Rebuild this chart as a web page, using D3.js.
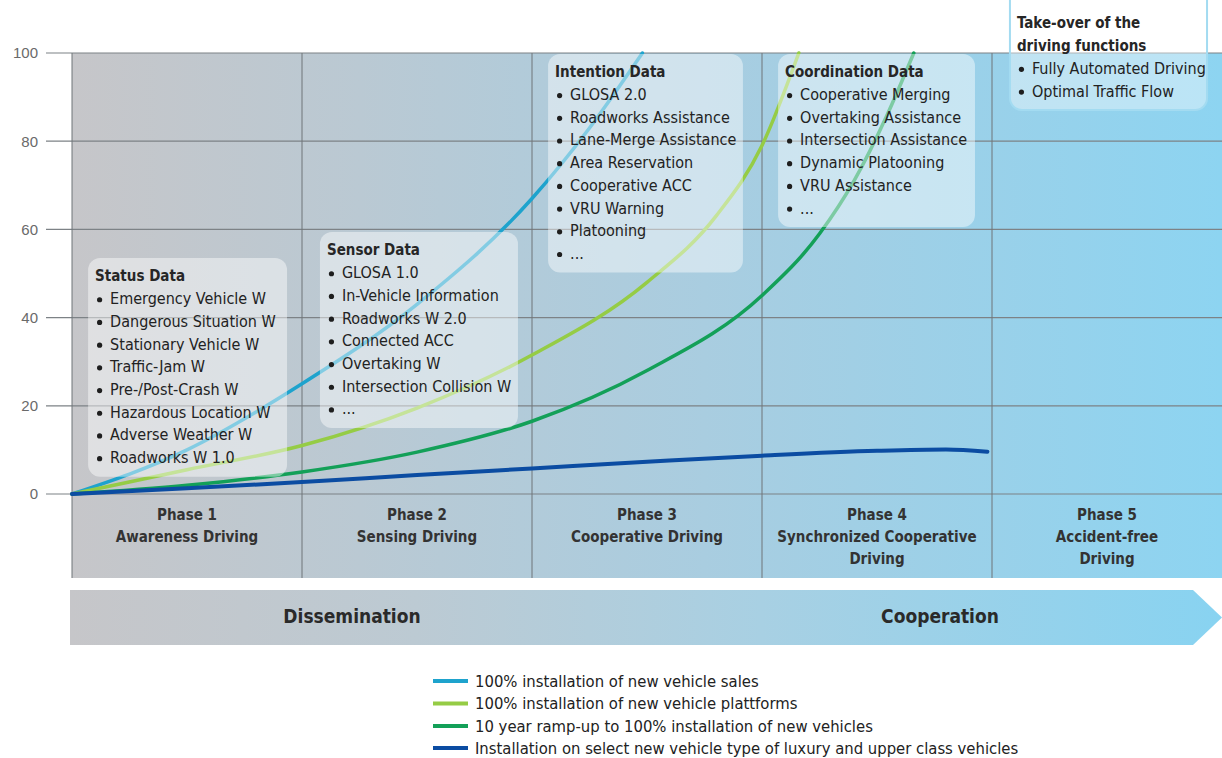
<!DOCTYPE html>
<html>
<head>
<meta charset="utf-8">
<script src="https://cdn.jsdelivr.net/npm/d3@7"></script>
<style>
  body { margin: 0; background: #fff; }
  svg { display: block; font-family: "DejaVu Sans Condensed", "Liberation Sans Narrow", sans-serif; }
</style>
</head>
<body>
<div id="chart"></div>
<script>
var yTicks = [0, 20, 40, 60, 80, 100];
var phaseTitles = ["Phase 1", "Phase 2", "Phase 3", "Phase 4", "Phase 5"];
var phaseNames = [["Awareness Driving"], ["Sensing Driving"], ["Cooperative Driving"],
                  ["Synchronized Cooperative", "Driving"], ["Accident-free", "Driving"]];

var salesX = [0, 0.5, 1.0, 1.5, 2.0, 2.25, 2.48];
var salesY = [0, 10, 25, 43, 67, 83, 100];
var platformX = [0, 0.5, 1.0, 1.5, 2.0, 2.5, 2.8, 3.0, 3.16];
var platformY = [0, 5.5, 11, 19.5, 31.5, 48, 63, 79, 100];
var rampX = [0, 0.5, 1.0, 1.5, 2.0, 2.5, 3.0, 3.25, 3.4, 3.54, 3.66];
var rampY = [0, 2.0, 5.0, 9.5, 16.5, 28, 45, 59, 71, 85.5, 100];
var luxuryX = [0, 0.5, 1.0, 1.5, 2.0, 2.5, 3.0, 3.5, 3.8, 3.98];
var luxuryY = [0, 1.3, 2.7, 4.3, 5.8, 7.3, 8.7, 9.8, 10.1, 9.6];

var seriesNames = ["100% installation of new vehicle sales",
                   "100% installation of new vehicle plattforms",
                   "10 year ramp-up to 100% installation of new vehicles",
                   "Installation on select new vehicle type of luxury and upper class vehicles"];
var seriesColors = ["#1ea3cd", "#95cc45", "#13a058", "#0b4ca2"];

var boxTitles = [["Status Data"], ["Sensor Data"], ["Intention Data"], ["Coordination Data"],
                 ["Take-over of the", "driving functions"]];
var boxItems = [
  ["Emergency Vehicle W", "Dangerous Situation W", "Stationary Vehicle W", "Traffic-Jam W",
   "Pre-/Post-Crash W", "Hazardous Location W", "Adverse Weather W", "Roadworks W 1.0"],
  ["GLOSA 1.0", "In-Vehicle Information", "Roadworks W 2.0", "Connected ACC",
   "Overtaking W", "Intersection Collision W", "..."],
  ["GLOSA 2.0", "Roadworks Assistance", "Lane-Merge Assistance", "Area Reservation",
   "Cooperative ACC", "VRU Warning", "Platooning", "..."],
  ["Cooperative Merging", "Overtaking Assistance", "Intersection Assistance",
   "Dynamic Platooning", "VRU Assistance", "..."],
  ["Fully Automated Driving", "Optimal Traffic Flow"]
];
var arrowLabels = ["Dissemination", "Cooperation"];

// layout
var width = 1222, height = 758;
var bandBottom = 578;
var lineH = 22.7;
// box anchors: left/right in phase units, top in y units
var boxLeft = [0.07, 1.078, 2.07, 3.07, 4.078];
var boxRight = [0.935, 1.939, 2.917, 3.926, 4.935];
var boxTop = [53.5, 59.4, 99.8, 99.8, 110.9];

var svg = d3.select("#chart").append("svg")
  .attr("width", width).attr("height", height);

var x = d3.scaleLinear().domain([0, 5]).range([72, 1222]);
var y = d3.scaleLinear().domain([0, 100]).range([494, 53]);

var defs = svg.append("defs");
var bg = defs.append("linearGradient").attr("id", "bg");
[["0%", "#c6c6c9"], ["25%", "#bac9d3"], ["55%", "#a9cde0"], ["100%", "#8dd4f1"]].forEach(function(s){
  bg.append("stop").attr("offset", s[0]).attr("stop-color", s[1]);
});
var ag = defs.append("linearGradient").attr("id", "arrowg");
[["0%", "#c6c6c9"], ["30%", "#bccad3"], ["60%", "#a8d0e3"], ["100%", "#88d3f1"]].forEach(function(s){
  ag.append("stop").attr("offset", s[0]).attr("stop-color", s[1]);
});

// background
svg.append("rect")
  .attr("x", x(0)).attr("y", y(100))
  .attr("width", x(5) - x(0)).attr("height", bandBottom - y(100))
  .attr("fill", "url(#bg)");

// grid
svg.append("g").selectAll("line").data(yTicks).enter().append("line")
  .attr("x1", 46).attr("x2", x(5))
  .attr("y1", function(d){ return y(d); }).attr("y2", function(d){ return y(d); })
  .attr("stroke", "#7d8286").attr("stroke-width", 1.2);
svg.append("g").selectAll("line").data([0, 1, 2, 3, 4]).enter().append("line")
  .attr("x1", function(d){ return x(d); }).attr("x2", function(d){ return x(d); })
  .attr("y1", y(100)).attr("y2", bandBottom)
  .attr("stroke", "#6f7579").attr("stroke-width", 1);

// axis labels
var yAxis = svg.append("g")
  .attr("transform", "translate(46,0)")
  .call(d3.axisLeft(y).tickValues(yTicks).tickSize(0).tickPadding(8));
yAxis.select(".domain").remove();
yAxis.selectAll("text").attr("fill", "#6a6a6a").style("font-size", "15px")
  .style("font-family", "'Liberation Sans', Arial, sans-serif");

// curves
var line = d3.line()
  .x(function(d){ return x(d[0]); })
  .y(function(d){ return y(d[1]); })
  .curve(d3.curveMonotoneX);
var curves = [
  d3.zip(salesX, salesY),
  d3.zip(platformX, platformY),
  d3.zip(rampX, rampY),
  d3.zip(luxuryX, luxuryY)
];
svg.append("g").selectAll("path").data(curves).enter().append("path")
  .attr("d", line)
  .attr("fill", "none")
  .attr("stroke", function(d, i){ return seriesColors[i]; })
  .attr("stroke-width", function(d, i){ return i == 3 ? 4 : 3.5; })
  .attr("stroke-linecap", "round");

// info boxes (drawn over the curves)
boxTitles.forEach(function(t, i){
  var bx = x(boxLeft[i]), bw = x(boxRight[i]) - bx;
  var top = y(boxTop[i]);
  var nLines = t.length + boxItems[i].length;
  var bh = 18 + (nLines - 1) * lineH + 19;
  var extra = i == 4 ? 40 : 0; // last box runs off the top of the page
  var g = svg.append("g");
  g.append("rect")
    .attr("x", bx).attr("y", top - extra).attr("width", bw).attr("height", bh + extra)
    .attr("rx", 12).attr("ry", 12)
    .attr("fill", "#ffffff").attr("fill-opacity", i == 4 ? 0.4 : 0.45)
    .attr("stroke", i == 4 ? "#a3dbf1" : "none").attr("stroke-width", 2);
  t.forEach(function(s, j){
    g.append("text")
      .attr("x", bx + 7).attr("y", top + 18 + j * lineH)
      .attr("dominant-baseline", "central")
      .style("font-size", "15px").style("font-weight", "bold")
      .attr("fill", "#262626").text(s);
  });
  boxItems[i].forEach(function(s, j){
    var yy = top + 18 + (t.length + j) * lineH;
    g.append("circle").attr("cx", bx + 11.5).attr("cy", yy + 1).attr("r", 2.6).attr("fill", "#1e1e1e");
    g.append("text")
      .attr("x", bx + 22).attr("y", yy)
      .attr("dominant-baseline", "central")
      .style("font-size", "16px")
      .attr("fill", "#222").text(s);
  });
});

// phase labels
phaseTitles.forEach(function(p, i){
  var lines = [p].concat(phaseNames[i]);
  svg.append("g").selectAll("text").data(lines).enter().append("text")
    .attr("x", x(i + 0.5))
    .attr("y", function(d, j){ return 515 + j * 22; })
    .attr("text-anchor", "middle").attr("dominant-baseline", "central")
    .style("font-size", "15px").style("font-weight", "bold")
    .attr("fill", "#333").text(function(d){ return d; });
});

// arrow
var ar = d3.path();
ar.moveTo(70, 590); ar.lineTo(1193, 590); ar.lineTo(1222, 617.5);
ar.lineTo(1193, 645); ar.lineTo(70, 645); ar.closePath();
svg.append("path").attr("d", ar.toString()).attr("fill", "url(#arrowg)");
svg.selectAll(".arrowlabel").data(arrowLabels).enter().append("text")
  .attr("x", function(d, i){ return i == 0 ? 352 : 940; })
  .attr("y", 616)
  .attr("text-anchor", "middle").attr("dominant-baseline", "central")
  .style("font-size", "19px").style("font-weight", "bold")
  .attr("fill", "#2a2a2a").text(function(d){ return d; });

// legend
var legendY = [681, 703.5, 726, 748];
var lg = svg.append("g").selectAll("g").data(seriesNames).enter().append("g")
  .attr("transform", function(d, i){ return "translate(433," + legendY[i] + ")"; });
lg.append("line").attr("x1", 0).attr("x2", 35)
  .attr("stroke", function(d, i){ return seriesColors[i]; })
  .attr("stroke-width", 4);
lg.append("text").attr("x", 42).attr("dominant-baseline", "central")
  .style("font-size", "16.5px").attr("fill", "#222")
  .text(function(d){ return d; });
</script>
</body>
</html>
